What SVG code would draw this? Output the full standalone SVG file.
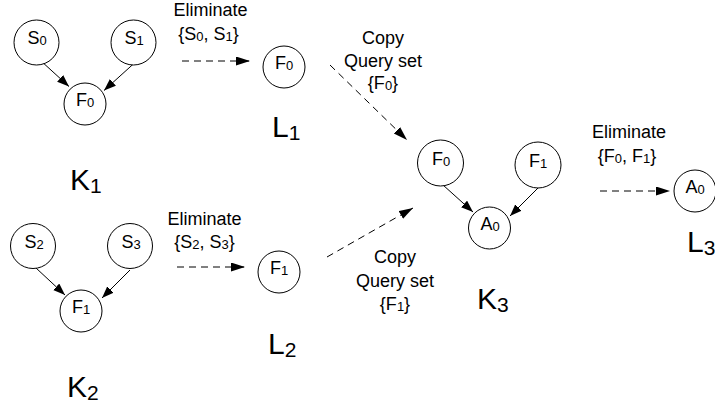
<svg xmlns="http://www.w3.org/2000/svg" width="715" height="410" viewBox="0 0 715 410">
<defs>
<style>
text{font-family:"Liberation Sans",Arial,sans-serif;fill:#000}
.n{font-size:18px;text-anchor:middle}
.s{font-size:13px}
.t{font-size:18px;text-anchor:middle}
.big{font-size:30px}
.bs{font-size:21px}
circle{fill:#fff;stroke:#000;stroke-width:1}
.e{stroke:#000;stroke-width:1;fill:none}
.d{stroke-dasharray:7 5}
</style>
<marker id="ah" markerUnits="userSpaceOnUse" markerWidth="13" markerHeight="10" refX="12" refY="4.5" orient="auto"><path d="M0,0 L12,4.5 L0,9 z" fill="#000"/></marker>
<marker id="dh" markerUnits="userSpaceOnUse" markerWidth="15" markerHeight="10" refX="14" refY="4.5" orient="auto"><path d="M0,0 L14,4.5 L0,9 z" fill="#000"/></marker>
</defs>
<g id="connectors">
<line class="e" x1="40.5" y1="60.5" x2="69" y2="86.5" marker-end="url(#ah)"/>
<line class="e" x1="135" y1="62.5" x2="104" y2="90.5" marker-end="url(#ah)"/>
<line class="e" x1="36" y1="268" x2="65" y2="295" marker-end="url(#ah)"/>
<line class="e" x1="130" y1="270" x2="102" y2="298" marker-end="url(#ah)"/>
<line class="e" x1="443" y1="185" x2="473" y2="212" marker-end="url(#ah)"/>
<line class="e" x1="539" y1="187" x2="510" y2="216" marker-end="url(#ah)"/>
<line class="e d" x1="182" y1="61" x2="250" y2="61" marker-end="url(#dh)"/>
<line class="e d" x1="330" y1="65" x2="407" y2="140" marker-end="url(#dh)"/>
<line class="e d" x1="177" y1="267" x2="245" y2="267" marker-end="url(#dh)"/>
<line class="e d" x1="327" y1="257" x2="413" y2="208" marker-end="url(#dh)"/>
<line class="e d" x1="600" y1="191" x2="670" y2="191" marker-end="url(#dh)"/>
</g>
<g id="S0"><circle cx="36.5" cy="42.5" r="22.5"/><text class="n" x="37" y="44">S<tspan class="s" dy="1">0</tspan></text></g>
<g id="S1"><circle cx="133.5" cy="42.5" r="22.5"/><text class="n" x="134" y="44">S<tspan class="s" dy="1">1</tspan></text></g>
<g id="F0_K1"><circle cx="85" cy="104" r="21"/><text class="n" x="85" y="106">F<tspan class="s" dy="1">0</tspan></text></g>
<g id="F0_L1"><circle cx="284" cy="67" r="21"/><text class="n" x="284" y="69">F<tspan class="s" dy="1">0</tspan></text></g>
<g id="S2"><circle cx="33" cy="246" r="22.5"/><text class="n" x="34" y="248">S<tspan class="s" dy="1">2</tspan></text></g>
<g id="S3"><circle cx="130" cy="246" r="22.5"/><text class="n" x="131" y="248">S<tspan class="s" dy="1">3</tspan></text></g>
<g id="F1_K2"><circle cx="81" cy="311" r="21"/><text class="n" x="81" y="313">F<tspan class="s" dy="1">1</tspan></text></g>
<g id="F1_L2"><circle cx="279" cy="272" r="21"/><text class="n" x="279" y="274">F<tspan class="s" dy="1">1</tspan></text></g>
<g id="F0_K3"><circle cx="440.5" cy="163" r="23"/><text class="n" x="441" y="165">F<tspan class="s" dy="1">0</tspan></text></g>
<g id="F1_K3"><circle cx="538" cy="165" r="23"/><text class="n" x="538" y="167">F<tspan class="s" dy="1">1</tspan></text></g>
<g id="A0_K3"><circle cx="489.5" cy="228" r="21"/><text class="n" x="490" y="230">A<tspan class="s" dy="1">0</tspan></text></g>
<g id="A0_L3"><circle cx="695" cy="191" r="21"/><text class="n" x="695" y="193">A<tspan class="s" dy="1">0</tspan></text></g>
<g id="labels">
<text class="t" x="210.5" y="16">Eliminate</text>
<text class="t" x="208.5" y="40">{S<tspan class="s" dy="1">0</tspan><tspan dy="-1">, S</tspan><tspan class="s" dy="1">1</tspan><tspan dy="-1">}</tspan></text>
<text class="t" x="383" y="44">Copy</text>
<text class="t" x="383" y="66.5">Query set</text>
<text class="t" x="383" y="89">{F<tspan class="s" dy="1">0</tspan><tspan dy="-1">}</tspan></text>
<text class="t" x="204.5" y="225">Eliminate</text>
<text class="t" x="204.5" y="248">{S<tspan class="s" dy="1">2</tspan><tspan dy="-1">, S</tspan><tspan class="s" dy="1">3</tspan><tspan dy="-1">}</tspan></text>
<text class="t" x="395" y="263">Copy</text>
<text class="t" x="395" y="287">Query set</text>
<text class="t" x="395" y="310">{F<tspan class="s" dy="1">1</tspan><tspan dy="-1">}</tspan></text>
<text class="t" x="629" y="138">Eliminate</text>
<text class="t" x="627" y="162">{F<tspan class="s" dy="1">0</tspan><tspan dy="-1">, F</tspan><tspan class="s" dy="1">1</tspan><tspan dy="-1">}</tspan></text>
<text class="big" x="70" y="190">K<tspan class="bs" dy="3">1</tspan></text>
<text class="big" x="272" y="137">L<tspan class="bs" dy="3">1</tspan></text>
<text class="big" x="67" y="397">K<tspan class="bs" dy="3">2</tspan></text>
<text class="big" x="268" y="354">L<tspan class="bs" dy="3">2</tspan></text>
<text class="big" x="477" y="309">K<tspan class="bs" dy="3">3</tspan></text>
<text class="big" x="687" y="252">L<tspan class="bs" dy="3">3</tspan></text>
</g>
</svg>
